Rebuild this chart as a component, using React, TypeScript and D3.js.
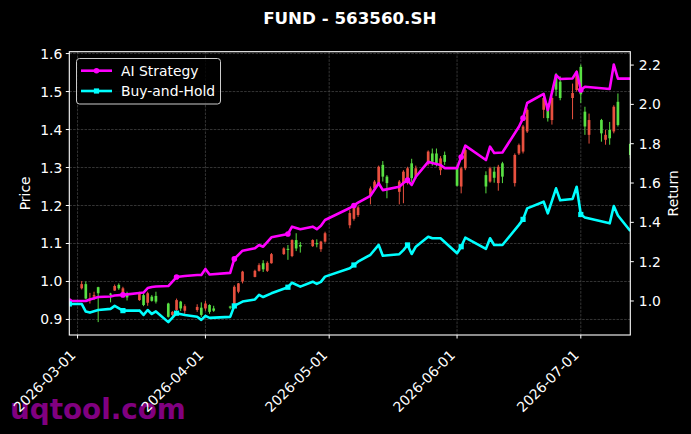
import * as d3 from "d3";

// daily candles (price axis)
const candleDates = [
    "2026-03-02", "2026-03-03", "2026-03-04", "2026-03-05", "2026-03-06",
    "2026-03-09", "2026-03-10", "2026-03-11", "2026-03-12", "2026-03-13",
    "2026-03-16", "2026-03-17", "2026-03-18", "2026-03-19", "2026-03-20",
    "2026-03-23", "2026-03-24", "2026-03-25", "2026-03-26", "2026-03-27",
    "2026-03-30", "2026-03-31", "2026-04-01", "2026-04-02", "2026-04-03",
    "2026-04-07", "2026-04-08", "2026-04-09", "2026-04-10",
    "2026-04-13", "2026-04-14", "2026-04-15", "2026-04-16", "2026-04-17",
    "2026-04-20", "2026-04-21", "2026-04-22", "2026-04-23", "2026-04-24",
    "2026-04-27", "2026-04-28", "2026-04-29", "2026-04-30",
    "2026-05-06", "2026-05-07", "2026-05-08",
    "2026-05-11", "2026-05-12", "2026-05-13", "2026-05-14", "2026-05-15",
    "2026-05-18", "2026-05-19", "2026-05-20", "2026-05-21", "2026-05-22",
    "2026-05-25", "2026-05-26", "2026-05-27", "2026-05-28", "2026-05-29",
    "2026-06-01", "2026-06-02", "2026-06-03",
    "2026-06-08", "2026-06-09", "2026-06-10", "2026-06-11", "2026-06-12",
    "2026-06-15", "2026-06-16", "2026-06-17", "2026-06-18",
    "2026-06-22", "2026-06-23", "2026-06-24", "2026-06-25", "2026-06-26",
    "2026-06-29", "2026-06-30", "2026-07-01", "2026-07-02", "2026-07-03",
    "2026-07-06", "2026-07-07", "2026-07-08", "2026-07-09", "2026-07-10",
    "2026-07-13",
];
const opens = [
    0.982, 0.993, 0.951, 0.960, 0.985,
    0.968, 0.976, 0.991, 0.969, 0.969,
    0.951, 0.964, 0.944, 0.960, 0.962,
    0.942, 0.912, 0.925, 0.947, 0.923,
    0.925, 0.931, 0.929, 0.938, 0.929,
    0.934, 0.940, 0.973, 1.000,
    1.012, 1.028, 1.048, 1.028, 1.048,
    1.072, 1.086, 1.067, 1.109, 1.096,
    1.093, 1.101, 1.085, 1.105,
    1.148, 1.165, 1.175,
    1.228, 1.245, 1.259, 1.307, 1.276,
    1.236, 1.259, 1.259, 1.311, 1.276,
    1.311, 1.337, 1.337, 1.293, 1.333,
    1.300, 1.250, 1.298,
    1.280, 1.263, 1.289, 1.259, 1.311,
    1.259, 1.337, 1.342, 1.395,
    1.452, 1.456, 1.425, 1.545, 1.526,
    1.483, 1.504, 1.565, 1.447, 1.386,
    1.425, 1.373, 1.399, 1.395, 1.473,
    1.362,
];
const highs = [
    1.001, 1.000, 0.970, 0.973, 0.986,
    0.970, 0.992, 0.995, 0.986, 0.973,
    0.973, 0.969, 0.973, 0.964, 0.973,
    0.944, 0.922, 0.955, 0.949, 0.940,
    0.940, 0.945, 0.949, 0.940, 0.936,
    0.936, 0.990, 0.996, 1.028,
    1.031, 1.048, 1.056, 1.053, 1.075,
    1.090, 1.096, 1.111, 1.127, 1.104,
    1.111, 1.111, 1.107, 1.131,
    1.188, 1.200, 1.200,
    1.250, 1.267, 1.305, 1.317, 1.280,
    1.267, 1.293, 1.302, 1.323, 1.305,
    1.345, 1.350, 1.350, 1.330, 1.342,
    1.308, 1.302, 1.350,
    1.290, 1.302, 1.302, 1.307, 1.315,
    1.337, 1.363, 1.412, 1.456,
    1.487, 1.469, 1.487, 1.549, 1.540,
    1.521, 1.556, 1.571, 1.460, 1.442,
    1.428, 1.399, 1.420, 1.464, 1.495,
    1.365,
];
const lows = [
    0.979, 0.953, 0.942, 0.951, 0.893,
    0.945, 0.975, 0.978, 0.962, 0.950,
    0.949, 0.935, 0.936, 0.947, 0.942,
    0.905, 0.905, 0.920, 0.922, 0.914,
    0.920, 0.907, 0.923, 0.915, 0.920,
    0.927, 0.936, 0.969, 0.995,
    1.011, 1.026, 1.025, 1.025, 1.047,
    1.070, 1.057, 1.064, 1.080, 1.076,
    1.091, 1.090, 1.078, 1.102,
    1.140, 1.160, 1.170,
    1.203, 1.243, 1.255, 1.263, 1.219,
    1.203, 1.206, 1.255, 1.262, 1.270,
    1.305, 1.305, 1.303, 1.280, 1.307,
    1.250, 1.232, 1.293,
    1.232, 1.260, 1.260, 1.239, 1.259,
    1.250, 1.333, 1.337, 1.391,
    1.430, 1.421, 1.413, 1.488, 1.477,
    1.427, 1.500, 1.470, 1.386, 1.363,
    1.368, 1.360, 1.360, 1.390, 1.408,
    1.324,
];
const closes = [
    0.993, 0.955, 0.955, 0.964, 0.969,
    0.965, 0.988, 0.982, 0.982, 0.958,
    0.969, 0.938, 0.969, 0.949, 0.947,
    0.907, 0.920, 0.951, 0.929, 0.935,
    0.933, 0.912, 0.942, 0.920, 0.923,
    0.931, 0.986, 0.995, 1.026,
    1.028, 1.043, 1.032, 1.049, 1.072,
    1.087, 1.083, 1.109, 1.087, 1.092,
    1.109, 1.098, 1.105, 1.127,
    1.180, 1.195, 1.195,
    1.245, 1.263, 1.302, 1.276, 1.259,
    1.263, 1.289, 1.298, 1.272, 1.298,
    1.342, 1.315, 1.307, 1.324, 1.315,
    1.252, 1.298, 1.346,
    1.250, 1.298, 1.273, 1.302, 1.276,
    1.333, 1.359, 1.408, 1.452,
    1.483, 1.430, 1.483, 1.505, 1.483,
    1.496, 1.548, 1.493, 1.408, 1.425,
    1.390, 1.386, 1.377, 1.460, 1.412,
    1.333,
];

// cumulative return curves (return axis)
const lineDates = [
    "2026-02-27", "2026-03-02", "2026-03-03", "2026-03-04", "2026-03-06",
    "2026-03-09", "2026-03-10", "2026-03-12", "2026-03-16", "2026-03-17",
    "2026-03-18", "2026-03-19", "2026-03-20", "2026-03-23", "2026-03-25",
    "2026-03-27", "2026-03-30", "2026-03-31", "2026-04-01", "2026-04-02",
    "2026-04-07", "2026-04-08", "2026-04-10", "2026-04-13", "2026-04-14",
    "2026-04-15", "2026-04-17", "2026-04-21", "2026-04-22", "2026-04-24",
    "2026-04-27", "2026-04-28", "2026-04-29", "2026-04-30", "2026-05-06",
    "2026-05-07", "2026-05-08", "2026-05-11", "2026-05-13", "2026-05-14",
    "2026-05-18", "2026-05-19", "2026-05-20", "2026-05-21", "2026-05-22",
    "2026-05-25", "2026-05-26", "2026-05-28", "2026-05-29", "2026-06-01",
    "2026-06-02", "2026-06-03", "2026-06-08", "2026-06-09", "2026-06-10",
    "2026-06-12", "2026-06-16", "2026-06-17", "2026-06-18", "2026-06-22",
    "2026-06-23", "2026-06-25", "2026-06-26", "2026-06-29", "2026-06-30",
    "2026-07-01", "2026-07-02", "2026-07-08", "2026-07-09", "2026-07-10",
    "2026-07-13",
];
const aiStrategy = [
    1.000, 1.000, 1.000, 1.008, 1.020,
    1.023, 1.028, 1.031, 1.041, 1.043,
    1.066, 1.071, 1.074, 1.076, 1.122,
    1.127, 1.132, 1.132, 1.163, 1.135,
    1.143, 1.214, 1.256, 1.268, 1.285,
    1.276, 1.324, 1.341, 1.378, 1.365,
    1.378, 1.365, 1.383, 1.412, 1.473,
    1.486, 1.500, 1.535, 1.599, 1.564,
    1.581, 1.600, 1.615, 1.590, 1.632,
    1.708, 1.702, 1.692, 1.676, 1.676,
    1.732, 1.790, 1.717, 1.785, 1.753,
    1.755, 1.886, 1.930, 2.007, 2.053,
    1.971, 2.149, 2.129, 2.132, 2.166,
    2.073, 2.090, 2.078, 2.2025, 2.131,
    2.131,
];
const buyAndHold = [
    0.985, 0.985, 0.946, 0.941, 0.954,
    0.960, 0.975, 0.951, 0.952, 0.929,
    0.954, 0.934, 0.947, 0.8925, 0.938,
    0.929, 0.920, 0.904, 0.924, 0.914,
    0.919, 0.975, 0.997, 1.008, 1.031,
    1.020, 1.039, 1.070, 1.093, 1.073,
    1.098, 1.087, 1.097, 1.124, 1.166,
    1.183, 1.200, 1.235, 1.285, 1.230,
    1.238, 1.259, 1.285, 1.239, 1.276,
    1.327, 1.319, 1.319, 1.300, 1.243,
    1.276, 1.322, 1.265, 1.319, 1.285,
    1.285, 1.387, 1.415, 1.471, 1.505,
    1.446, 1.573, 1.512, 1.519, 1.581,
    1.440, 1.425, 1.395, 1.483, 1.435,
    1.356,
];
const markerDates = [
    "2026-02-27", "2026-03-12", "2026-03-25", "2026-04-08", "2026-04-21",
    "2026-05-07", "2026-05-20", "2026-06-02", "2026-06-17", "2026-07-01",
];

const priceTicks = [0.9, 1.0, 1.1, 1.2, 1.3, 1.4, 1.5, 1.6];
const returnTicks = [1.0, 1.2, 1.4, 1.6, 1.8, 2.0, 2.2];

const UP = "#e8503f";
const DOWN = "#58e043";
const AI = "#ff00ff";
const BH = "#00ffff";
const FONT = "DejaVu Sans, sans-serif";

export default function App() {
    const W = 691;
    const H = 434;
    const left = 69.3, right = 630.3, top = 51.7, bottom = 335;

    const parse = d3.timeParse("%Y-%m-%d");
    const cDates = candleDates.map((s) => parse(s) as Date);
    const lDates = lineDates.map((s) => parse(s) as Date);

    const x = d3.scaleTime()
        .domain(d3.extent(lDates) as [Date, Date])
        .range([left, right]);

    const pLo = d3.min(lows) as number;
    const pHi = d3.max(highs) as number;
    const pPad = (pHi - pLo) * 0.05;
    const yP = d3.scaleLinear().domain([pLo - pPad, pHi + pPad]).range([bottom, top]);

    const rAll = aiStrategy.concat(buyAndHold);
    const rLo = d3.min(rAll) as number;
    const rHi = d3.max(rAll) as number;
    const rPad = (rHi - rLo) * 0.05;
    const yR = d3.scaleLinear().domain([rLo - rPad, rHi + rPad]).range([bottom, top]);

    const dayPx = x(new Date(2026, 2, 2)) - x(new Date(2026, 2, 1));
    const bodyW = dayPx * 0.65;

    const monthTicks = x.ticks(d3.timeMonth.every(1) as d3.TimeInterval);
    const fmt = d3.timeFormat("%Y-%m-%d");

    const line = d3.line<number>()
        .x((_, i) => x(lDates[i]))
        .y((v) => yR(v));

    const markerIdx = markerDates.map((m) => lineDates.indexOf(m)).filter((i) => i >= 0);

    return (
        <svg
            width={W}
            height={H}
            style={{ position: "absolute", left: 0, top: 0, display: "block" }}
            fontFamily={FONT}
        >
            <defs>
                <clipPath id="plot">
                    <rect x={left} y={top} width={right - left} height={bottom - top} />
                </clipPath>
            </defs>
            <rect width={W} height={H} fill="#000" />

            <text x={10} y={419} fontSize={27.8} fontWeight="bold" fill="#800080">
                uqtool.com
            </text>

            {/* grid */}
            <g stroke="#4a4a4a" strokeWidth={0.7} strokeDasharray="2.6,1.2">
                {priceTicks.map((t) => (
                    <line key={`gy-${t}`} x1={left} x2={right} y1={yP(t)} y2={yP(t)} />
                ))}
                {monthTicks.map((d) => (
                    <line key={`gx-${+d}`} x1={x(d)} x2={x(d)} y1={top} y2={bottom} />
                ))}
            </g>

            {/* candles */}
            <g clipPath="url(#plot)">
                {cDates.map((d, i) => {
                    const up = closes[i] >= opens[i];
                    const c = up ? UP : DOWN;
                    const cx = x(d);
                    const yTop = yP(Math.max(opens[i], closes[i]));
                    const yBot = yP(Math.min(opens[i], closes[i]));
                    return (
                        <g key={`c-${i}`}>
                            <line x1={cx} x2={cx} y1={yP(highs[i])} y2={yP(lows[i])} stroke={c} strokeWidth={1} />
                            <rect
                                x={cx - bodyW / 2}
                                y={yTop}
                                width={bodyW}
                                height={Math.max(yBot - yTop, 0.8)}
                                fill={c}
                            />
                        </g>
                    );
                })}
            </g>

            {/* return lines */}
            <g clipPath="url(#plot)" fill="none" strokeWidth={2.6} strokeLinejoin="round">
                <path d={line(aiStrategy) ?? ""} stroke={AI} />
                <path d={line(buyAndHold) ?? ""} stroke={BH} />
                {markerIdx.map((i) => (
                    <circle key={`ma-${i}`} cx={x(lDates[i])} cy={yR(aiStrategy[i])} r={2.8} fill={AI} stroke="none" />
                ))}
                {markerIdx.map((i) => (
                    <rect
                        key={`mb-${i}`}
                        x={x(lDates[i]) - 2.6}
                        y={yR(buyAndHold[i]) - 2.6}
                        width={5.2}
                        height={5.2}
                        fill={BH}
                        stroke="none"
                    />
                ))}
            </g>

            {/* spines */}
            <rect x={left} y={top} width={right - left} height={bottom - top} fill="none" stroke="#fff" strokeWidth={1.1} />

            {/* left axis */}
            <g fill="#fff" fontSize={13.9} textAnchor="end">
                {priceTicks.map((t) => (
                    <g key={`pt-${t}`}>
                        <line x1={left - 3.5} x2={left} y1={yP(t)} y2={yP(t)} stroke="#fff" strokeWidth={1} />
                        <text x={left - 7} y={yP(t)} dy="0.36em">{t.toFixed(1)}</text>
                    </g>
                ))}
            </g>

            {/* right axis */}
            <g fill="#fff" fontSize={13.9} textAnchor="start">
                {returnTicks.map((t) => (
                    <g key={`rt-${t}`}>
                        <line x1={right} x2={right + 3.5} y1={yR(t)} y2={yR(t)} stroke="#fff" strokeWidth={1} />
                        <text x={right + 8.5} y={yR(t)} dy="0.36em">{t.toFixed(1)}</text>
                    </g>
                ))}
            </g>

            {/* bottom axis */}
            <g fill="#fff" fontSize={13.9} textAnchor="end">
                {monthTicks.map((d) => (
                    <g key={`xt-${+d}`}>
                        <line x1={x(d)} x2={x(d)} y1={bottom} y2={bottom + 3.5} stroke="#fff" strokeWidth={1} />
                        <text transform={`translate(${x(d) - 1},${bottom + 21}) rotate(-45)`}>{fmt(d)}</text>
                    </g>
                ))}
            </g>

            {/* axis labels and title */}
            <text
                transform={`translate(25,${(top + bottom) / 2}) rotate(-90)`}
                textAnchor="middle"
                dy="0.36em"
                fill="#fff"
                fontSize={13.9}
            >
                Price
            </text>
            <text
                transform={`translate(673,${(top + bottom) / 2}) rotate(-90)`}
                textAnchor="middle"
                dy="0.36em"
                fill="#fff"
                fontSize={13.9}
            >
                Return
            </text>
            <text x={(left + right) / 2} y={24} textAnchor="middle" fill="#fff" fontSize={16.7} fontWeight="bold">
                FUND - 563560.SH
            </text>

            {/* legend */}
            <g>
                <rect x={76.5} y={58.5} width={144} height={45.5} rx={3} fill="#000" fillOpacity={0.8} stroke="#cccccc" strokeWidth={1} />
                <line x1={81} x2={112} y1={70.7} y2={70.7} stroke={AI} strokeWidth={2.6} />
                <circle cx={96.5} cy={70.7} r={2.8} fill={AI} />
                <text x={121} y={70.7} dy="0.36em" fill="#fff" fontSize={13.9}>AI Strategy</text>
                <line x1={81} x2={112} y1={91} y2={91} stroke={BH} strokeWidth={2.6} />
                <rect x={96.5 - 2.6} y={91 - 2.6} width={5.2} height={5.2} fill={BH} />
                <text x={121} y={91} dy="0.36em" fill="#fff" fontSize={13.9}>Buy-and-Hold</text>
            </g>
        </svg>
    );
}
